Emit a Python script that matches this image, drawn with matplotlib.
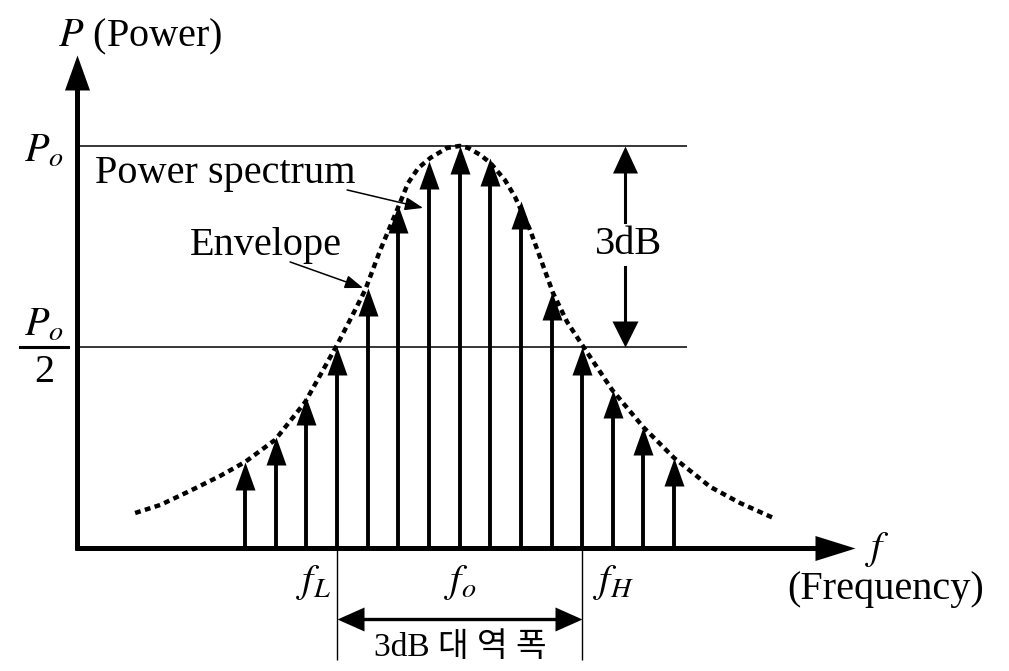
# 3dB 대역폭 - 파워 스펙트럼과 포락선
import numpy as np
import matplotlib.pyplot as plt
from matplotlib.path import Path

plt.rcParams['font.family'] = ['Liberation Serif', 'Noto Sans CJK KR']
plt.rcParams['mathtext.fontset'] = 'stix'

# 스펙트럼 선: 중심(f_o)으로부터의 선 번호, P/Po
freq_idx = np.arange(-7, 8)
line_power = [0.214, 0.276, 0.376, 0.50, 0.647, 0.853, 0.963, 1.0,
              0.970, 0.863, 0.637, 0.50, 0.393, 0.301, 0.224]

# 포락선 (점선) - 그림에서 읽은 점
env_f = [-10.59, -9.77, -8.80, -7.82, -7.00, -6.02, -5.04, -4.00, -3.51, -3.08,
         -2.59, -2.11, -1.68, -1.35, -0.96, -0.41, 0.0, 0.28, 0.67, 1.00,
         1.48, 1.81, 2.30, 3.05, 3.51, 4.00, 4.98, 5.99, 7.00, 8.18, 9.15, 10.23]
env_p = [0.087, 0.107, 0.142, 0.179, 0.214, 0.269, 0.363, 0.505, 0.577, 0.642,
         0.741, 0.828, 0.908, 0.945, 0.970, 0.995, 1.0, 0.995, 0.978, 0.958,
         0.915, 0.873, 0.791, 0.634, 0.562, 0.505, 0.393, 0.301, 0.224, 0.152, 0.112, 0.075]

p_o = 1.0
p_half = p_o / 2
f_lo, f_hi = -4, 4   # f_L, f_H

FS = 29

fig = plt.figure(figsize=(10.09, 6.71), dpi=100)
ax = fig.add_axes([0, 0, 1, 1])
ax.set_xlim(-15.0, 17.93)
ax.set_ylim(-0.306, 1.363)
ax.axis('off')


def px(x, y):
    # 원본 그림의 픽셀 위치 -> 데이터 좌표 (글자/화살표 배치용)
    return (x - 459.5) / 30.64, (548 - y) / 402


def head(d, length, width):
    # 끝점이 (0,0)인 삼각형 화살촉 마커
    r = width / 2 / length
    v = {'up': [(0, 0), (-r, -1), (r, -1)],
         'down': [(0, 0), (-r, 1), (r, 1)],
         'right': [(0, 0), (-1, -r), (-1, r)],
         'left': [(0, 0), (1, -r), (1, r)]}[d]
    path = Path(v + [(0, 0)], [Path.MOVETO, Path.LINETO, Path.LINETO, Path.CLOSEPOLY])
    return dict(marker=path, ms=2 * length * 0.72, mew=0, ls='none', color='k')


x0 = px(77, 0)[0]
# 축
y_top = px(0, 55)[1]
ax.plot([x0, x0], [-0.006, y_top - 0.06], color='k', lw=3.6, solid_capstyle='butt')
ax.plot([x0], [y_top], **head('up', 35, 25))
x_end = px(855, 0)[0]
ax.plot([x0 - 0.08, x_end - 1.0], [0, 0], color='k', lw=3.6, solid_capstyle='butt')
ax.plot([x_end], [0], **head('right', 40, 25))

# Po, Po/2 수평선
ax.hlines([p_o, p_half], x0, px(687, 0)[0], color='k', lw=1.1)

# 스펙트럼 선
ax.vlines(freq_idx, 0, np.array(line_power) - 0.03, color='k', lw=2.8)
ax.plot(freq_idx, line_power, **head('up', 28, 20))

# 포락선
ax.plot(env_f, env_p, color='k', lw=3.2, ls=(0, (1.3, 1.0)), dash_capstyle='butt')

# f_L, f_H 보조선과 3dB 대역폭 화살표
y_bw = px(0, 619)[1]
ax.vlines([f_lo, f_hi], px(0, 660)[1], 0, color='k', lw=1.0)
ax.plot([f_lo + 0.5, f_hi - 0.5], [y_bw, y_bw], color='k', lw=2.4)
ax.plot([f_lo], [y_bw], **head('left', 27, 24))
ax.plot([f_hi], [y_bw], **head('right', 27, 24))

# 3dB 화살표 (오른쪽)
x3 = px(625, 0)[0]
ax.plot([x3, x3], [px(0, 222)[1], p_o - 0.04], color='k', lw=2.2)
ax.plot([x3], [p_o], **head('up', 27, 25))
ax.plot([x3, x3], [px(0, 267)[1], p_half + 0.04], color='k', lw=2.2)
ax.plot([x3], [p_half], **head('down', 26, 26))
ax.text(*px(628, 245), '3dB', fontsize=FS, ha='center', va='center')

# 라벨
ax.text(*px(58, 37), r'$P$ (Power)', fontsize=FS, ha='left', va='center')
ax.text(*px(44, 152), r'$P_o$', fontsize=FS, ha='center', va='center')
ax.text(*px(44, 326), r'$P_o$', fontsize=FS, ha='center', va='center')
ax.plot([px(20, 0)[0], px(68, 0)[0]], [p_half, p_half], color='k', lw=2.2)
ax.text(*px(44, 373), '2', fontsize=FS, ha='center', va='center')

ax.text(*px(95, 183), 'Power spectrum', fontsize=FS, ha='left', va='baseline')
ax.annotate('', xy=px(423, 208), xytext=px(347, 190),
            arrowprops=dict(arrowstyle='-|>,head_length=1.1,head_width=0.4',
                            mutation_scale=10, lw=1.1, color='k', shrinkA=0, shrinkB=0))
ax.text(*px(190, 255), 'Envelope', fontsize=FS, ha='left', va='baseline')
ax.annotate('', xy=px(363, 288), xytext=px(290, 262),
            arrowprops=dict(arrowstyle='-|>,head_length=1.1,head_width=0.4',
                            mutation_scale=10, lw=1.1, color='k', shrinkA=0, shrinkB=0))

ax.text(*px(313, 583), r'$f_L$', fontsize=FS, ha='center', va='center')
ax.text(*px(460, 583), r'$f_o$', fontsize=FS, ha='center', va='center')
ax.text(*px(613, 583), r'$f_H$', fontsize=FS, ha='center', va='center')
ax.text(*px(877, 550), r'$f$', fontsize=FS, ha='center', va='center')
ax.text(*px(886, 590), '(Frequency)', fontsize=FS, ha='center', va='center')
ax.text(*px(460, 648), '3dB 대 역 폭', fontsize=24, ha='center', va='center')

fig.savefig('out.png', dpi=100)
